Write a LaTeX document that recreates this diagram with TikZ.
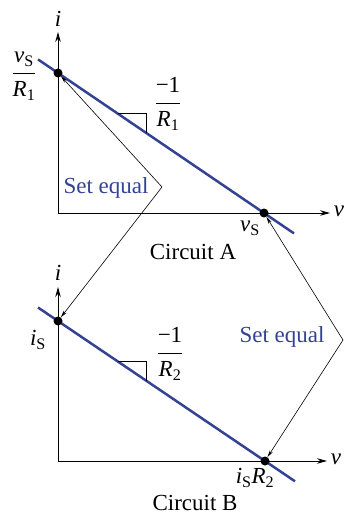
\documentclass[tikz,border=0pt]{standalone}
\usepackage{fontspec}
\usepackage{amsmath}
\setmainfont{Liberation Serif}
\usetikzlibrary{arrows.meta}
\definecolor{lineblue}{RGB}{52,66,148}
\begin{document}
\begin{tikzpicture}[x=1pt,y=-1pt,
  font=\fontsize{23}{27}\selectfont,
  axis/.style={line width=0.9pt,{Stealth[length=10pt,width=5.5pt]}-{Stealth[length=10pt,width=5.5pt]}},
  loadline/.style={draw=lineblue,line width=2.5pt},
  dotnode/.style={circle,fill=black,inner sep=0pt,minimum size=9pt},
  setarrow/.style={line width=0.6pt,{Stealth[length=7pt,width=3.5pt]}-{Stealth[length=7pt,width=3.5pt]}},
  tri/.style={line width=0.8pt},
  lbl/.style={inner sep=0pt},
  bluelbl/.style={inner sep=0pt,text=lineblue}]
\useasboundingbox (0,0) rectangle (345,516);
% ---------- Circuit A ----------
\coordinate (O1) at (58,213);
\coordinate (Y1) at (58,32);
\coordinate (X1) at (330,213);
\draw[axis] (Y1) -- (O1) -- (X1);
\coordinate (L1s) at (38,59.4);
\coordinate (L1e) at (294,233.4);
\draw[loadline] (L1s) -- (L1e);
\coordinate (T1a) at (118,113);
\coordinate (T1b) at (146,113);
\coordinate (T1c) at (146,132.8);
\draw[tri] (T1a) -- (T1b) -- (T1c);
\node[dotnode] (A1) at (58,73) {};
\node[dotnode] (A2) at (264,213) {};
\node[lbl] (i1) at (58,19) {\textit{i}};
\node[lbl] (v1) at (339,211) {\textit{v}};
\node[lbl] (f1) at (24,76) {$\dfrac{\text{\textit{v}\textsubscript{S}}}{\text{\textit{R}\textsubscript{1}}}$};
\node[lbl] (s1) at (168,104) {$\dfrac{\text{−1}}{\text{\textit{R}\textsubscript{1}}}$};
\node[lbl] (vs) at (250,228) {\textit{v}\textsubscript{S}};
\node[lbl] (cA) at (193,252) {Circuit A};
% ---------- Circuit B ----------
\coordinate (O2) at (58,461);
\coordinate (Y2) at (58,287);
\coordinate (X2) at (327,461);
\draw[axis] (Y2) -- (O2) -- (X2);
\coordinate (L2s) at (38,307.5);
\coordinate (L2e) at (295,481.3);
\draw[loadline] (L2s) -- (L2e);
\coordinate (T2a) at (118,361);
\coordinate (T2b) at (146,361);
\coordinate (T2c) at (146,380.5);
\draw[tri] (T2a) -- (T2b) -- (T2c);
\node[dotnode] (B1) at (58,321) {};
\node[dotnode] (B2) at (265,461) {};
\node[lbl] (i2) at (58,273) {\textit{i}};
\node[lbl] (v2) at (336,459) {\textit{v}};
\node[lbl] (is) at (38,340) {\textit{i}\textsubscript{S}};
\node[lbl] (s2) at (170,354) {$\dfrac{\text{−1}}{\text{\textit{R}\textsubscript{2}}}$};
\node[lbl] (isr) at (255,478) {\textit{i}\textsubscript{S}\textit{R}\textsubscript{2}};
\node[lbl] (cB) at (195,503) {Circuit B};
% ---------- Set equal arrows ----------
\coordinate (V1) at (162,187);
\coordinate (V2) at (343,340);
\draw[setarrow] (A1) -- (V1) -- (B1);
\draw[setarrow] (A2) -- (V2) -- (B2);
\node[bluelbl] (se1) at (106,188) {Set equal};
\node[bluelbl] (se2) at (282,337) {Set equal};
\end{tikzpicture}
\end{document}
